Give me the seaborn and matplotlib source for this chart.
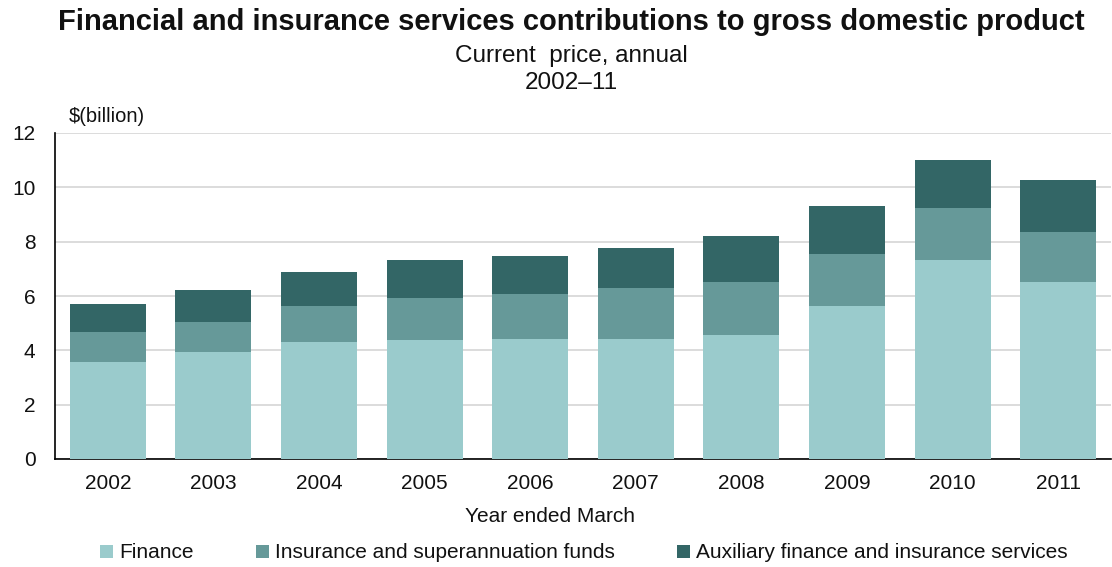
import matplotlib
matplotlib.use("Agg")
import matplotlib.pyplot as plt
from matplotlib.patches import Patch
import numpy as np
import pandas as pd
import seaborn as sns

years = ["2002", "2003", "2004", "2005", "2006", "2007", "2008", "2009", "2010", "2011"]
finance = [3.56, 3.93, 4.30, 4.37, 4.43, 4.43, 4.58, 5.63, 7.32, 6.50]
insurance = [1.11, 1.11, 1.33, 1.55, 1.64, 1.85, 1.92, 1.91, 1.92, 1.85]
auxiliary = [1.03, 1.18, 1.24, 1.40, 1.40, 1.48, 1.71, 1.77, 1.77, 1.92]
series_names = ["Finance", "Insurance and superannuation funds",
                "Auxiliary finance and insurance services"]
colors = ["#9ACBCC", "#669999", "#336666"]

df = pd.DataFrame({"year": years, "Finance": finance,
                   "Insurance": insurance, "Auxiliary": auxiliary})
df["lvl1"] = df["Finance"]
df["lvl2"] = df["Finance"] + df["Insurance"]
df["lvl3"] = df["lvl2"] + df["Auxiliary"]

sns.set_theme(style="white")
plt.rcParams["font.family"] = ["Liberation Sans", "DejaVu Sans"]

fig = plt.figure(figsize=(11.12, 5.67), dpi=100)
ax = fig.add_axes([55 / 1112, 1 - 459 / 567, (1111 - 55) / 1112, (459 - 133) / 567])

# Stacked bars drawn as cumulative layers, tallest first
for col, c in zip(["lvl3", "lvl2", "lvl1"], colors[::-1]):
    sns.barplot(data=df, x="year", y=col, color=c, width=0.72,
                saturation=1, linewidth=0, ax=ax, zorder=3)

ax.set_ylim(0, 12)
ax.set_yticks(np.arange(0, 13, 2))
ax.set_xlim(-0.5, len(years) - 0.5)
ax.yaxis.grid(True, color="#D9D9D9", linewidth=1.3, zorder=0)
ax.set_axisbelow(True)
for s in ["top", "right"]:
    ax.spines[s].set_visible(False)
for s in ["left", "bottom"]:
    ax.spines[s].set_color("black")
    ax.spines[s].set_linewidth(1.2)
ax.tick_params(axis="both", length=0, labelsize=15, colors="#111111")
ax.tick_params(axis="x", pad=11)
ax.tick_params(axis="y", pad=14)
ax.set_ylabel("")
ax.set_xlabel("")

cx = 571 / 1112
fig.text(cx, 1 - 22 / 567, "Financial and insurance services contributions to gross domestic product",
         ha="center", va="center", fontsize=21, fontweight="bold", color="#111111")
fig.text(cx, 1 - 56 / 567, "Current  price, annual", ha="center", va="center",
         fontsize=17.5, color="#111111")
fig.text(cx, 1 - 83 / 567, "2002\u201311", ha="center", va="center",
         fontsize=17.5, color="#111111")
fig.text(69 / 1112, 1 - 116 / 567, "$(billion)", ha="left", va="center",
         fontsize=14.5, color="#111111")
fig.text(550 / 1112, 1 - 516 / 567, "Year ended March", ha="center", va="center",
         fontsize=15, color="#111111")

handles = [Patch(facecolor=c, edgecolor="none") for c in colors]
fig.legend(handles, series_names, loc="center", bbox_to_anchor=(584 / 1112, 1 - 553 / 567),
           ncol=3, frameon=False, fontsize=15, handlelength=0.6, handleheight=0.6,
           handletextpad=0.3, columnspacing=3.0, labelcolor="#111111")

fig.savefig("out.png", dpi=100)
